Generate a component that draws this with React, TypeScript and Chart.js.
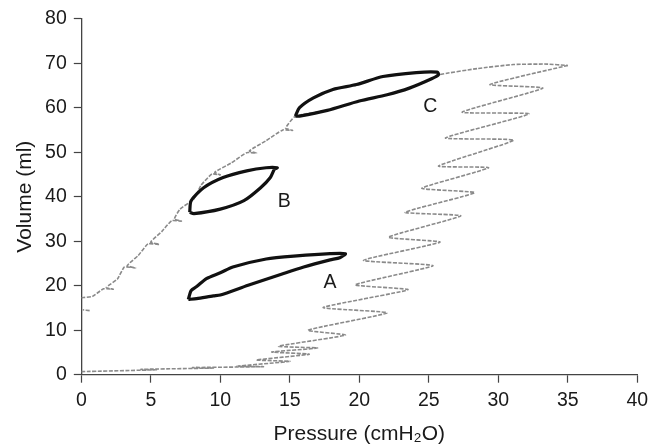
import { useEffect, useRef } from "react"
import { Chart, registerables } from "chart.js"

Chart.register(...registerables)

// Upper (deflation) limb of the pressure-volume curve, with the small step ticks
const upperLimbP = [0, 0.8, 1.6, 2.3, 1.8, 2.6, 3.1, 3.9, 3.3, 4.1, 4.8, 5.6, 5.0, 5.8, 6.5, 7.2, 6.7, 7.1, 8.1, 8.6, 9.4, 10.0, 9.6, 10.8, 11.9, 12.6, 12.1, 13.3, 14.5, 15.2, 14.7, 15.4, 17.7, 20.0, 22.0, 23.6, 25.2, 25.7, 28.5, 31.1, 33.5, 35.0]
const upperLimbV = [17.3, 17.6, 19.3, 19.2, 19.6, 21.5, 24.2, 24.0, 24.5, 26.8, 29.4, 29.3, 29.8, 32.2, 34.6, 34.5, 35.0, 37.2, 39.5, 42.5, 45.1, 44.9, 45.5, 47.6, 49.9, 49.8, 50.3, 52.6, 55.0, 54.9, 55.4, 58.1, 59.4, 61.5, 62.9, 64.4, 66.5, 67.4, 68.8, 69.7, 69.8, 69.5]

// Lower limb: the zig-zag coming back down from the top
const lowerLimbP = [35.0, 29.4, 33.2, 27.4, 32.2, 26.2, 31.1, 25.7, 29.3, 24.5, 28.3, 23.3, 27.3, 22.1, 25.8, 20.3, 25.3, 19.7, 23.5, 17.4, 22.0, 16.3, 19.0, 14.2, 17.0, 13.7, 16.4, 12.6, 15.0, 11.2, 13.1, 8.0, 9.5, 4.3, 5.4, 0]
const lowerLimbV = [69.5, 65.2, 64.4, 59.0, 58.6, 53.2, 52.7, 46.9, 46.5, 41.9, 40.9, 36.5, 35.7, 30.9, 29.8, 25.7, 24.5, 20.2, 19.1, 15.1, 13.9, 10.0, 8.9, 6.4, 6.0, 5.1, 4.6, 3.3, 3.0, 1.9, 1.8, 1.6, 1.5, 1.2, 1.1, 0.7]

// stray dash at the left edge
const strayP = [0.6, 0.1]
const strayV = [14.4, 14.6]

// Loops
const loopAP = [7.7, 7.9, 8.3, 9.0, 10.0, 10.9, 13.3, 15.5, 17.9, 19.0, 18.6, 17.9, 16.0, 14.5, 12.0, 10.0, 9.5, 8.3, 7.7]
const loopAV = [16.9, 18.9, 19.8, 21.6, 22.9, 24.2, 26.0, 26.7, 27.2, 27.2, 26.3, 25.8, 24.2, 22.7, 20.1, 17.9, 17.7, 17.1, 16.9]

const loopBP = [7.8, 7.9, 8.8, 10.2, 11.9, 13.3, 14.1, 13.9, 13.6, 12.9, 11.7, 10.0, 8.1, 7.8]
const loopBV = [36.5, 39.1, 42.0, 44.3, 45.8, 46.5, 46.5, 46.2, 44.3, 42.0, 39.1, 37.2, 36.2, 36.5]

const loopCP = [15.4, 15.7, 16.7, 18.1, 19.8, 21.7, 24.1, 25.6, 25.7, 25.2, 23.6, 22.0, 20.0, 17.7, 15.7, 15.4]
const loopCV = [58.1, 60.0, 62.2, 64.1, 65.2, 67.0, 67.9, 68.0, 67.4, 66.5, 64.4, 62.9, 61.5, 59.4, 58.1, 58.1]

const loopLabels = ["A", "B", "C"]
const labelP = [17.9, 14.6, 25.1]
const labelV = [20.8, 38.9, 60.3]

const xTicks = { min: 0, max: 40, step: 5 }
const yTicks = { min: 0, max: 80, step: 10 }

const FONT = "'Liberation Sans', Arial, Helvetica, sans-serif"

const pts = (xs: number[], ys: number[]) => xs.map((x, i) => ({ x, y: ys[i] }))

const labelPlugin = {
  id: "loopLabels",
  afterDatasetsDraw(chart: any) {
    const { ctx, scales } = chart
    ctx.save()
    ctx.fillStyle = "#1a1a1a"
    ctx.font = `19.5px ${FONT}`
    ctx.textAlign = "center"
    ctx.textBaseline = "middle"
    loopLabels.forEach((t, i) => {
      ctx.fillText(t, scales.x.getPixelForValue(labelP[i]), scales.y.getPixelForValue(labelV[i]))
    })
    ctx.restore()
  },
}

export default function App() {
  const chartRef = useRef<HTMLCanvasElement>(null)
  const chartInstance = useRef<Chart | null>(null)

  useEffect(() => {
    if (!chartRef.current) return
    if (chartInstance.current) chartInstance.current.destroy()

    // grey trace sits underneath the black loops (higher order = drawn first)
    const grey = {
      borderColor: "#8a8a8a",
      borderWidth: 1.6,
      borderDash: [4, 1.5],
      pointRadius: 0,
      showLine: true,
      tension: 0.15,
      order: 2,
    }
    const loop = {
      borderColor: "#111",
      borderWidth: 3.2,
      pointRadius: 0,
      showLine: true,
      tension: 0.25,
      order: 1,
    }

    chartInstance.current = new Chart(chartRef.current, {
      type: "scatter",
      data: {
        datasets: [
          { ...grey, data: pts(upperLimbP, upperLimbV) },
          { ...grey, data: pts(lowerLimbP, lowerLimbV) },
          { ...grey, data: pts(strayP, strayV) },
          { ...loop, data: pts(loopAP, loopAV) },
          { ...loop, data: pts(loopBP, loopBV) },
          { ...loop, data: pts(loopCP, loopCV) },
        ] as any,
      },
      options: {
        responsive: false,
        animation: false,
        events: [],
        layout: { padding: { top: 17.3, right: 18.7, left: 0, bottom: 0 } },
        plugins: { legend: { display: false }, tooltip: { enabled: false } },
        scales: {
          x: {
            type: "linear",
            min: xTicks.min,
            max: xTicks.max,
            afterFit: (scale: any) => {
              scale.height = 72.3
            },
            ticks: { stepSize: xTicks.step, color: "#1a1a1a", padding: 6, font: { family: FONT, size: 19.5 } },
            grid: { drawOnChartArea: false, drawTicks: true, tickLength: 8, color: "#444", tickWidth: 1.2 },
            border: { color: "#444", width: 1.3 },
            title: {
              display: true,
              text: "Pressure (cmH\u2082O)",
              color: "#1a1a1a",
              font: { family: FONT, size: 21 },
              padding: { top: 0, bottom: 0 },
            },
          },
          y: {
            type: "linear",
            min: yTicks.min,
            max: yTicks.max,
            afterFit: (scale: any) => {
              scale.width = 81.3
            },
            ticks: { stepSize: yTicks.step, color: "#1a1a1a", padding: 7, font: { family: FONT, size: 19.5 } },
            grid: { drawOnChartArea: false, drawTicks: true, tickLength: 7.5, color: "#444", tickWidth: 1.2 },
            border: { color: "#444", width: 1.3 },
            title: {
              display: true,
              text: "Volume (ml)",
              color: "#1a1a1a",
              font: { family: FONT, size: 21 },
              padding: { top: 13, bottom: 0 },
            },
          },
        },
      },
      plugins: [labelPlugin],
    })

    return () => {
      if (chartInstance.current) {
        chartInstance.current.destroy()
        chartInstance.current = null
      }
    }
  }, [])

  return (
    <div style={{ position: "absolute", left: 0, top: 0, width: 656, height: 447, background: "#fff" }}>
      <canvas ref={chartRef} width={656} height={447} style={{ width: 656, height: 447 }} />
    </div>
  )
}
